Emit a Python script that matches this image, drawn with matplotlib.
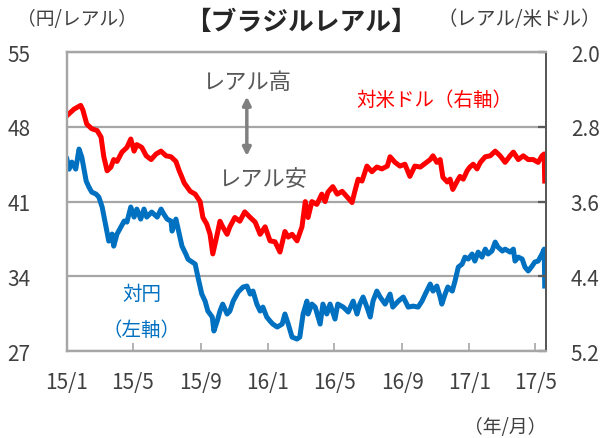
import pandas as pd
import matplotlib.pyplot as plt

plt.rcParams['font.family'] = ['Noto Sans CJK JP', 'DejaVu Sans']

# レアル/米ドル (right axis, inverted)
usd_dates = [
    "2015-01-01", "2015-01-14", "2015-01-26", "2015-01-30", "2015-02-06", "2015-02-15",
    "2015-02-25", "2015-03-04", "2015-03-09", "2015-03-15", "2015-03-22", "2015-03-27",
    "2015-04-02", "2015-04-11", "2015-04-20", "2015-04-27", "2015-05-03", "2015-05-08",
    "2015-05-17", "2015-05-25", "2015-06-03", "2015-06-12", "2015-06-21", "2015-06-30",
    "2015-07-09", "2015-07-18", "2015-07-24", "2015-07-29", "2015-08-02", "2015-08-13",
    "2015-08-22", "2015-08-31", "2015-09-05", "2015-09-12", "2015-09-18", "2015-09-23",
    "2015-10-01", "2015-10-06", "2015-10-11", "2015-10-19", "2015-10-24", "2015-11-02",
    "2015-11-11", "2015-11-20", "2015-11-30", "2015-12-09", "2015-12-18", "2015-12-27",
    "2016-01-05", "2016-01-14", "2016-01-23", "2016-02-01", "2016-02-07", "2016-02-14",
    "2016-02-23", "2016-03-03", "2016-03-09", "2016-03-14", "2016-03-21", "2016-03-30",
    "2016-04-08", "2016-04-14", "2016-04-19", "2016-04-28", "2016-05-06", "2016-05-15",
    "2016-05-24", "2016-06-02", "2016-06-07", "2016-06-13", "2016-06-20", "2016-06-29",
    "2016-07-08", "2016-07-17", "2016-07-26", "2016-08-05", "2016-08-10", "2016-08-19",
    "2016-08-28", "2016-09-06", "2016-09-15", "2016-09-24", "2016-10-04", "2016-10-13",
    "2016-10-22", "2016-10-27", "2016-11-03", "2016-11-09", "2016-11-14", "2016-11-22",
    "2016-11-27", "2016-12-02", "2016-12-10", "2016-12-15", "2016-12-21", "2016-12-28",
    "2017-01-02", "2017-01-08", "2017-01-15", "2017-01-21", "2017-01-30", "2017-02-08",
    "2017-02-17", "2017-02-26", "2017-03-07", "2017-03-16", "2017-03-22", "2017-03-31",
    "2017-04-09", "2017-04-18", "2017-04-27", "2017-05-06", "2017-05-13", "2017-05-17",
    "2017-05-18",
]
usd_values = [
    2.68, 2.61, 2.57, 2.62, 2.77, 2.82,
    2.84, 2.91, 3.12, 3.27, 3.23, 3.15,
    3.17, 3.07, 3.02, 2.93, 3.06, 2.99,
    3.02, 3.11, 3.15, 3.09, 3.06, 3.11,
    3.12, 3.17, 3.27, 3.34, 3.40, 3.49,
    3.52, 3.60, 3.77, 3.84, 3.95, 4.16,
    3.95, 3.81, 3.87, 3.95, 3.87, 3.77,
    3.81, 3.71, 3.77, 3.82, 3.95, 3.87,
    4.02, 4.03, 4.14, 3.92, 3.98, 3.95,
    4.02, 3.87, 3.60, 3.77, 3.60, 3.63,
    3.52, 3.60, 3.50, 3.44, 3.52, 3.49,
    3.55, 3.61, 3.49, 3.36, 3.38, 3.22,
    3.28, 3.23, 3.25, 3.22, 3.12, 3.18,
    3.22, 3.20, 3.33, 3.22, 3.23, 3.19,
    3.15, 3.11, 3.18, 3.15, 3.34, 3.39,
    3.36, 3.47, 3.38, 3.33, 3.36, 3.27,
    3.23, 3.20, 3.25, 3.18, 3.12, 3.11,
    3.06, 3.11, 3.18, 3.11, 3.07, 3.15,
    3.11, 3.15, 3.15, 3.18, 3.11, 3.09,
    3.38,
]

# 円/レアル (left axis)
jpy_dates = [
    "2015-01-01", "2015-01-05", "2015-01-10", "2015-01-17", "2015-01-23", "2015-01-28",
    "2015-02-05", "2015-02-10", "2015-02-15", "2015-02-23", "2015-02-28", "2015-03-06",
    "2015-03-13", "2015-03-18", "2015-03-24", "2015-03-27", "2015-04-02", "2015-04-09",
    "2015-04-15", "2015-04-20", "2015-04-27", "2015-05-03", "2015-05-08", "2015-05-15",
    "2015-05-21", "2015-05-26", "2015-06-04", "2015-06-14", "2015-06-21", "2015-06-26",
    "2015-07-02", "2015-07-09", "2015-07-11", "2015-07-18", "2015-07-24", "2015-07-29",
    "2015-08-05", "2015-08-09", "2015-08-22", "2015-08-27", "2015-09-03", "2015-09-09",
    "2015-09-14", "2015-09-22", "2015-09-25", "2015-10-01", "2015-10-06", "2015-10-11",
    "2015-10-19", "2015-10-24", "2015-10-30", "2015-11-08", "2015-11-17", "2015-11-24",
    "2015-11-30", "2015-12-05", "2015-12-12", "2015-12-18", "2015-12-23", "2015-12-30",
    "2016-01-05", "2016-01-10", "2016-01-18", "2016-01-27", "2016-02-01", "2016-02-07",
    "2016-02-14", "2016-02-23", "2016-02-28", "2016-03-05", "2016-03-12", "2016-03-14",
    "2016-03-21", "2016-03-27", "2016-04-05", "2016-04-10", "2016-04-17", "2016-04-23",
    "2016-05-02", "2016-05-07", "2016-05-17", "2016-05-26", "2016-06-04", "2016-06-11",
    "2016-06-16", "2016-06-22", "2016-06-29", "2016-07-05", "2016-07-10", "2016-07-17",
    "2016-07-23", "2016-08-01", "2016-08-10", "2016-08-15", "2016-08-25", "2016-09-03",
    "2016-09-12", "2016-09-21", "2016-09-30", "2016-10-07", "2016-10-13", "2016-10-22",
    "2016-10-27", "2016-11-03", "2016-11-09", "2016-11-12", "2016-11-18", "2016-11-23",
    "2016-12-01", "2016-12-06", "2016-12-12", "2016-12-19", "2016-12-24", "2016-12-30",
    "2017-01-06", "2017-01-11", "2017-01-17", "2017-01-24", "2017-01-30", "2017-02-04",
    "2017-02-11", "2017-02-17", "2017-02-22", "2017-03-02", "2017-03-07", "2017-03-16",
    "2017-03-22", "2017-03-25", "2017-03-31", "2017-04-07", "2017-04-12", "2017-04-18",
    "2017-04-25", "2017-04-30", "2017-05-06", "2017-05-13", "2017-05-17", "2017-05-18",
]
jpy_values = [
    44.98, 44.04, 44.70, 44.04, 45.92, 45.17,
    42.92, 42.36, 41.89, 41.70, 41.42, 40.49,
    38.61, 37.30, 37.96, 36.83, 37.96, 38.61,
    39.18, 39.08, 40.49, 39.55, 40.30, 39.36,
    40.30, 39.55, 40.02, 39.55, 40.30, 39.83,
    39.36, 39.18, 38.24, 39.36, 37.96, 36.83,
    36.09, 35.60, 35.15, 33.93, 32.34, 31.68,
    30.75, 30.19, 28.88, 29.81, 30.75, 31.40,
    30.47, 30.75, 31.68, 32.53, 33.00, 33.09,
    32.34, 32.62, 31.40, 30.75, 31.12, 30.19,
    29.81, 29.53, 29.25, 29.53, 30.47, 29.53,
    28.31, 28.13, 28.31, 30.47, 31.68, 30.47,
    31.40, 31.12, 29.53, 31.40, 30.47, 31.40,
    30.00, 31.40, 31.12, 30.66, 31.68, 30.47,
    31.40, 32.06, 31.12, 30.19, 31.68, 32.62,
    32.06, 31.40, 32.34, 31.12, 31.68, 32.06,
    31.12, 31.21, 31.12, 31.68, 32.34, 33.28,
    32.62, 33.09, 32.06, 31.40, 32.34, 33.00,
    32.62, 33.56, 34.87, 35.15, 35.80, 35.62,
    36.09, 35.43, 36.27, 35.80, 36.55, 36.09,
    36.37, 37.21, 36.74, 36.37, 36.55, 36.27,
    36.55, 35.43, 35.80, 35.62, 34.87, 34.50,
    34.96, 35.34, 35.43, 36.09, 36.55, 33.09,
]

tick_dates = ["2015-01-01", "2015-05-01", "2015-09-01", "2016-01-01",
              "2016-05-01", "2016-09-01", "2017-01-01", "2017-05-01"]
tick_labels = ["15/1", "15/5", "15/9", "16/1", "16/5", "16/9", "17/1", "17/5"]
left_ticks = [27, 34, 41, 48, 55]
right_ticks = [2.0, 2.8, 3.6, 4.4, 5.2]

grid_c = "#a6a6a6"
text_c = "#404040"

fig = plt.figure(figsize=(6.14, 4.39), dpi=100)
ax = fig.add_axes([0.109, 0.198, 0.780, 0.681])
ax2 = ax.twinx()

ax.plot(pd.to_datetime(jpy_dates), jpy_values, color="#0070c0", lw=3.6, solid_joinstyle="round")
ax2.plot(pd.to_datetime(usd_dates), usd_values, color="#ff0000", lw=3.6, solid_joinstyle="round")

ax.set_xlim(pd.Timestamp("2015-01-01"), pd.Timestamp("2017-05-20"))
ax.set_ylim(27, 55)
ax2.set_ylim(5.2, 2.0)

ax.set_yticks(left_ticks)
ax.set_yticklabels([str(v) for v in left_ticks])
ax2.set_yticks(right_ticks)
ax2.set_yticklabels([f"{v:.1f}" for v in right_ticks])
ax.set_xticks(pd.to_datetime(tick_dates))
ax.set_xticklabels(tick_labels)

ax.grid(axis="y", color=grid_c, lw=1.6)
ax.set_axisbelow(True)

ax.tick_params(axis="x", direction="in", length=6, width=1.2, color=grid_c,
               labelsize=15, labelcolor=text_c, pad=14)
ax.tick_params(axis="y", length=0, labelsize=15, labelcolor=text_c, pad=26)
ax2.tick_params(axis="y", direction="in", length=6, width=1.6, color="#595959",
                labelsize=15, labelcolor=text_c, pad=18)

for a in (ax, ax2):
    for side in ("left", "bottom", "top"):
        a.spines[side].set_color(grid_c)
        a.spines[side].set_linewidth(1.6)
    a.spines["right"].set_color("#595959")
    a.spines["right"].set_linewidth(1.4)

fig.text(0.49, 0.948, "【ブラジルレアル】", ha="center", va="center",
         fontsize=18.5, fontweight="bold", color="#262626")
fig.text(0.125, 0.955, "（円/レアル）", ha="center", va="center", fontsize=13.5, color=text_c)
fig.text(0.845, 0.955, "（レアル/米ドル）", ha="center", va="center", fontsize=14, color=text_c)
fig.text(0.823, 0.026, "（年/月）", ha="center", va="center", fontsize=13.5, color=text_c)

fig.text(0.401, 0.811, "レアル高", ha="center", va="center", fontsize=16, color="#595959")
fig.text(0.427, 0.592, "レアル安", ha="center", va="center", fontsize=16, color="#595959")
fig.text(0.231, 0.330, "対円", ha="center", va="center", fontsize=14, color="#0070c0")
fig.text(0.231, 0.248, "（左軸）", ha="center", va="center", fontsize=14, color="#0070c0")
fig.text(0.708, 0.770, "対米ドル（右軸）", ha="center", va="center", fontsize=14, color="#ff0000")

fig.add_artist(plt.matplotlib.patches.FancyArrowPatch(
    (0.402, 0.636), (0.402, 0.784), transform=fig.transFigure,
    arrowstyle="<|-|>", mutation_scale=12, color="#808080", lw=2.5))

fig.savefig("out.png", dpi=100)
